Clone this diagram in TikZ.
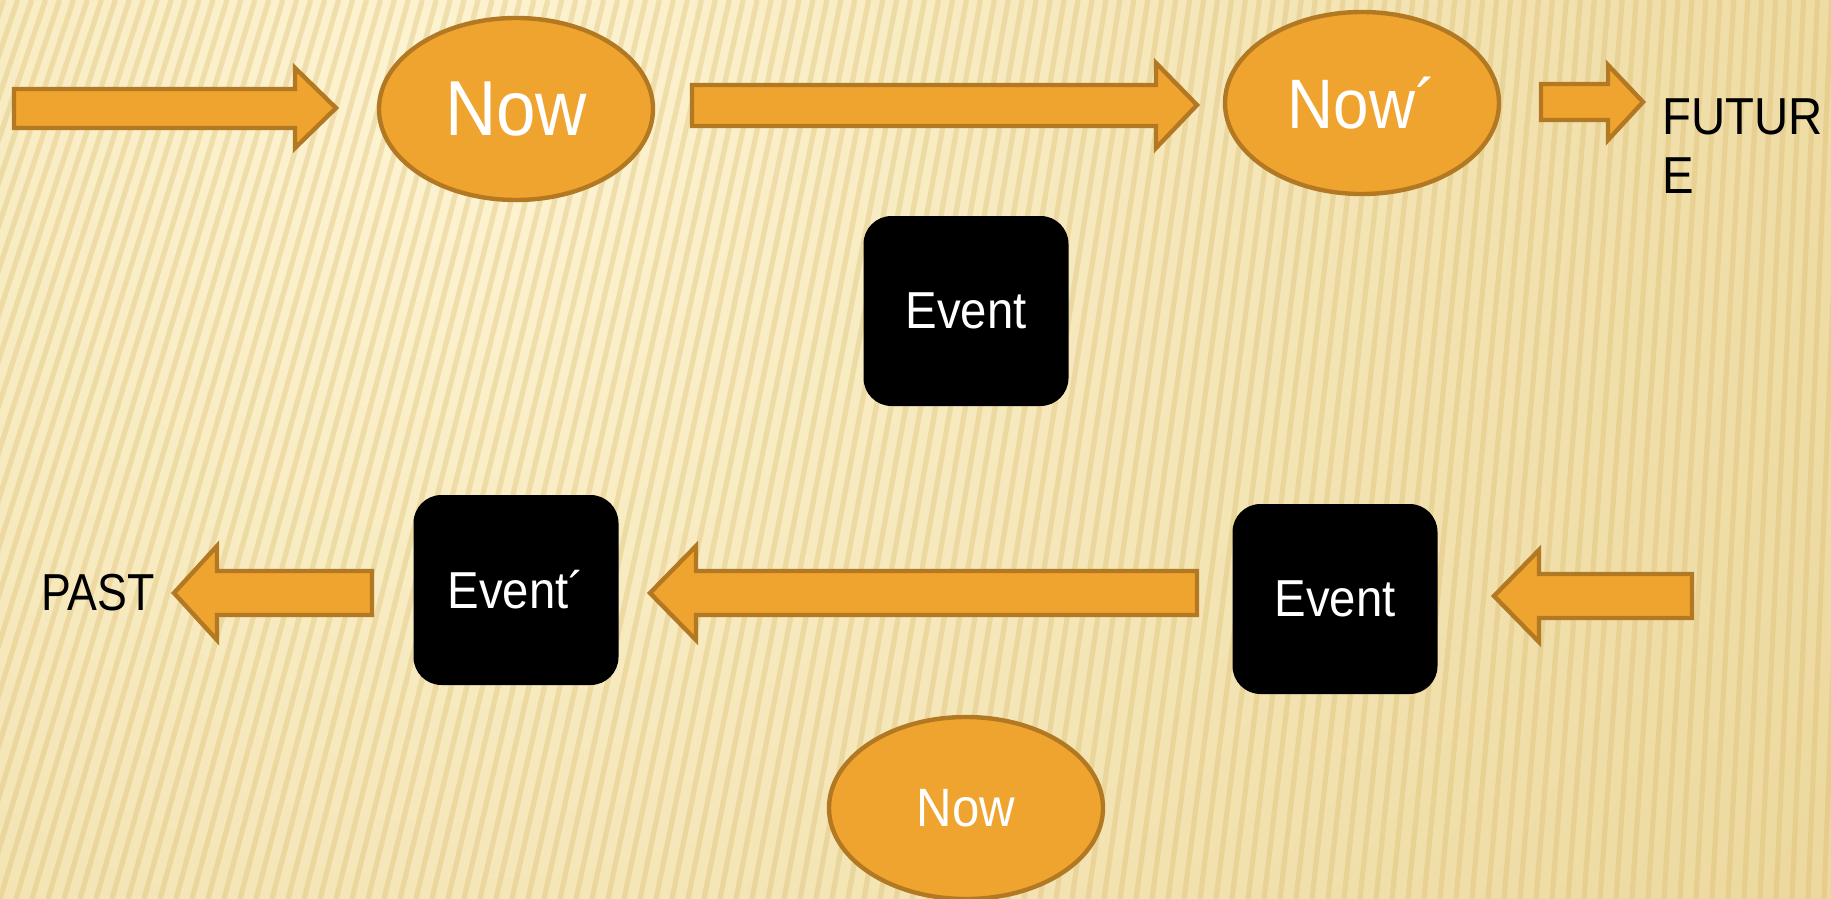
\documentclass[tikz,border=0pt]{standalone}
\usepackage{fontspec}
\setmainfont{Liberation Sans}
\usetikzlibrary{shapes.geometric}
\definecolor{ofill}{HTML}{F0A430}
\definecolor{oline}{HTML}{B37822}
\definecolor{bglight}{HTML}{FDF4D2}
\definecolor{bgdark}{HTML}{E2C77D}
\definecolor{stripecol}{HTML}{D6B461}
\newcommand\narrowtxt[2][0.91]{\scalebox{#1}[1]{#2}}
\begin{document}
\begin{tikzpicture}[x=0.5pt,y=-0.5pt,
  oell/.style={ellipse, fill=ofill, draw=oline, line width=2.2pt, inner sep=0pt,
    minimum width=137pt, minimum height=91pt, text=white},
  evbox/.style={fill=black, rounded corners=14pt, inner sep=0pt,
    minimum width=102.5pt, minimum height=95pt, text=white,
    font=\fontsize{26}{30}\selectfont},
  blockarrow/.style={fill=ofill, draw=oline, line width=2.2pt, line join=miter},
  plain/.style={inner sep=0pt, text=black, font=\fontsize{26}{30}\selectfont}]
\useasboundingbox (0,0) rectangle (1831,899);
% background
\begin{scope}
  \clip (0,0) rectangle (1831,899);
  \shade[inner color=bglight, outer color=bgdark] (450,100) circle (2600);
  \foreach \b in {-400,-384,...,1850} {
    \pgfmathsetmacro\dd{320*(1-(\b+400)/2500)}
    \draw[stripecol, opacity=0.3, line width=2.6pt] (\b,899) -- ({\b+\dd},0);
  }
\end{scope}
% top row
\draw[blockarrow] (14,89) -- (295,89) -- (295,68) -- (336,108) -- (295,148) -- (295,128) -- (14,128) -- cycle;
\node[oell, font=\fontsize{39}{44}\selectfont] (now1) at (516,109) {\narrowtxt{Now}};
\draw[blockarrow] (692,85) -- (1156,85) -- (1156,63) -- (1197,105) -- (1156,148) -- (1156,126) -- (692,126) -- cycle;
\node[oell, font=\fontsize{35}{40}\selectfont] (now2) at (1362,103) {\narrowtxt{Now´}};
\draw[blockarrow] (1541,84) -- (1608,84) -- (1608,65) -- (1643,102) -- (1608,140) -- (1608,120) -- (1541,120) -- cycle;
\node[plain, anchor=base west] (fut1) at (1662,134) {\narrowtxt{FUTUR}};
\node[plain, anchor=base west] (fut2) at (1662,193) {\narrowtxt{E}};
% middle
\node[evbox] (ev1) at (966,311) {\narrowtxt{Event}};
% bottom row
\node[plain, anchor=east] (past) at (155,593) {\narrowtxt[0.86]{PAST}};
\draw[blockarrow] (372,571) -- (217,571) -- (217,546) -- (174,593) -- (217,640) -- (217,615) -- (372,615) -- cycle;
\node[evbox] (ev2) at (516,590) {\narrowtxt{Event´}};
\draw[blockarrow] (1197,571) -- (696,571) -- (696,546) -- (650,593) -- (696,640) -- (696,615) -- (1197,615) -- cycle;
\node[evbox] (ev3) at (1335,599) {\narrowtxt{Event}};
\draw[blockarrow] (1692,574) -- (1539,574) -- (1539,550) -- (1494,596) -- (1539,642) -- (1539,618) -- (1692,618) -- cycle;
\node[oell, font=\fontsize{27}{31}\selectfont] (now3) at (966,808) {\narrowtxt{Now}};
\end{tikzpicture}
\end{document}
